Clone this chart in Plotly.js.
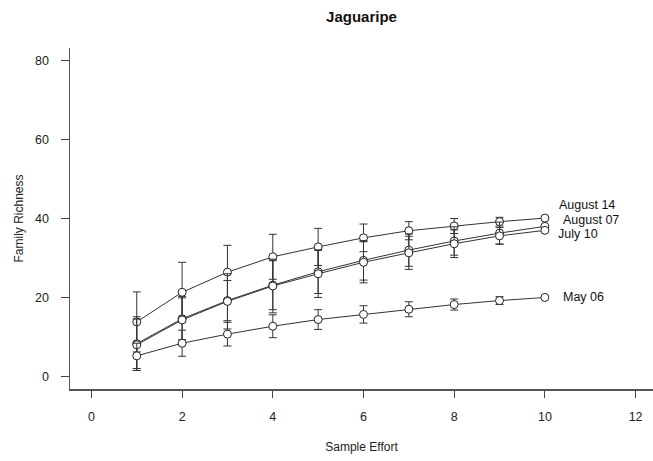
<!DOCTYPE html>
<html>
<head>
<meta charset="utf-8">
<script src="https://cdn.plot.ly/plotly-3.0.1.min.js"></script>
<style>html,body{margin:0;padding:0;background:#fff;}#chart{width:653px;height:461px;}</style>
</head>
<body>
<div id="chart"></div>
<script>
// Data
const sampleEffort = [1, 2, 3, 4, 5, 6, 7, 8, 9, 10];
const seriesNames = ["August 14", "August 07", "July 10", "May 06"];
const aug14 = [13.8, 21.3, 26.4, 30.3, 32.8, 35.1, 36.9, 38.1, 39.2, 40.1];
const aug14Err = [7.6, 7.6, 6.8, 5.7, 4.7, 3.5, 2.3, 1.9, 1.1, 0];
const aug07 = [8.3, 14.6, 19.2, 23.1, 26.5, 29.4, 32.0, 34.3, 36.3, 38.0];
const aug07Err = [6.8, 5.3, 5.1, 6.2, 5.5, 5.0, 4.1, 3.6, 2.8, 0];
const jul10 = [8.0, 14.3, 19.0, 22.9, 26.0, 28.9, 31.3, 33.6, 35.6, 37.0];
const jul10Err = [6.5, 5.9, 7.0, 6.8, 6.0, 5.2, 4.2, 3.5, 2.1, 0];
const may06 = [5.2, 8.4, 10.7, 12.7, 14.4, 15.7, 17.0, 18.2, 19.2, 20.0];
const may06Err = [3.2, 3.3, 3.0, 2.9, 2.5, 2.2, 1.9, 1.4, 1.0, 0];
const xTicks = [0, 2, 4, 6, 8, 10, 12];
const yTicks = [0, 20, 40, 60, 80];

const allY = [aug14, aug07, jul10, may06];
const allErr = [aug14Err, aug07Err, jul10Err, may06Err];

const FONT = "Liberation Sans, Arial, Helvetica, sans-serif";

const traces = allY.map((ys, i) => ({
  x: sampleEffort,
  y: ys,
  name: seriesNames[i],
  type: "scatter",
  mode: "lines+markers",
  line: {color: "#333333", width: 1},
  marker: {symbol: "circle", size: 8, color: "#ffffff", line: {color: "#222222", width: 1}},
  error_y: {type: "data", array: allErr[i], visible: true, color: "#333333", thickness: 1, width: 4},
  showlegend: false,
  cliponaxis: false
}));

// label anchor positions (layout only)
const labelPos = [[10.27, 43.4], [10.36, 39.5], [10.24, 36.0], [10.36, 20.05]];
const annotations = seriesNames.map((s, i) => ({
  x: labelPos[i][0], y: labelPos[i][1], xref: "x", yref: "y",
  text: s, showarrow: false, xanchor: "left", yanchor: "middle",
  font: {family: FONT, size: 12.5, color: "#111111"}
}));

const layout = {
  width: 653, height: 461,
  margin: {l: 70, r: 0, t: 48, b: 72.4, pad: 0},
  paper_bgcolor: "#ffffff", plot_bgcolor: "#ffffff",
  font: {family: FONT, size: 12, color: "#222222"},
  title: {text: "<b>Jaguaripe</b>", font: {family: FONT, size: 15, color: "#111111"},
          xref: "paper", x: 0.5, xanchor: "center", yref: "container", y: 1 - 17/461, yanchor: "middle"},
  xaxis: {
    range: [-0.472, 12.384], tickvals: xTicks, ticktext: xTicks.map(String),
    showgrid: false, zeroline: false, showline: true, linecolor: "#555555", linewidth: 1.5,
    ticks: "outside", ticklen: 7, tickcolor: "#444444", tickwidth: 1,
    ticklabelstandoff: 8,
    tickfont: {family: FONT, size: 12.5, color: "#222222"},
    title: {text: "Sample Effort", font: {family: FONT, size: 12, color: "#222222"}, standoff: 20},
    automargin: false
  },
  yaxis: {
    range: [-3.2, 83.2], tickvals: yTicks, ticktext: yTicks.map(String),
    showgrid: false, zeroline: false, showline: true, linecolor: "#555555", linewidth: 1.5,
    ticks: "outside", ticklen: 8, tickcolor: "#444444", tickwidth: 1,
    ticklabelstandoff: 9,
    tickfont: {family: FONT, size: 12.5, color: "#222222"},
    title: {text: "Family Richness", font: {family: FONT, size: 12, color: "#222222"}, standoff: 9},
    automargin: false
  },
  annotations: annotations
};

Plotly.newPlot("chart", traces, layout, {staticPlot: true, displayModeBar: false});
</script>
</body>
</html>
